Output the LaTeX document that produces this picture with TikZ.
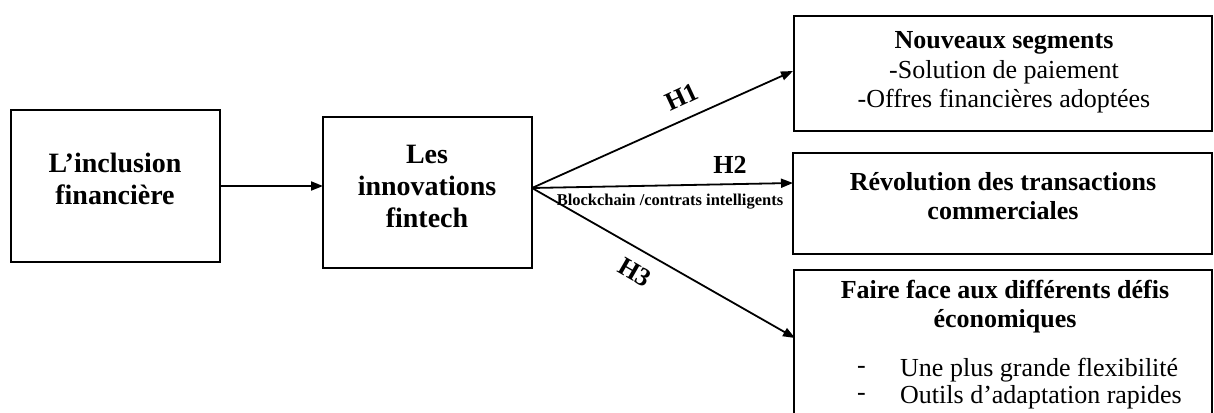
\documentclass[tikz,border=0pt]{standalone}
\usepackage{fontspec}
\setmainfont{Liberation Serif}
\usetikzlibrary{arrows.meta}
\begin{document}
\begin{tikzpicture}[x=1pt,y=-1pt,
  box/.style={draw=black, line width=1.4pt, inner sep=0pt, outer sep=0pt},
  arr/.style={line width=1.8pt, -{Triangle[length=12pt,width=9pt]}},
  bigtxt/.style={align=center, inner sep=0pt, font=\fontsize{28}{32}\selectfont\bfseries},
  rtitle/.style={align=center, inner sep=0pt, font=\fontsize{26}{29}\selectfont\bfseries},
  rtxt/.style={align=center, inner sep=0pt, font=\fontsize{26}{29.5}\selectfont},
  hlab/.style={inner sep=0pt, font=\fontsize{26}{28}\selectfont\bfseries},
  smalllab/.style={inner sep=0pt, font=\fontsize{16.5}{18}\selectfont\bfseries},
  bul/.style={anchor=west, inner sep=0pt, font=\fontsize{26}{28}\selectfont}
]
\clip (0,0) rectangle (1214,412);
\fill[white] (0,0) rectangle (1214,412);

% boxes
\node[box, minimum width=209pt, minimum height=152pt] (b1) at (115.5,186) {};
\node[box, minimum width=209pt, minimum height=151pt] (b2) at (427.5,192.5) {};
\node[box, minimum width=418pt, minimum height=115pt] (r1) at (1003,73.5) {};
\node[box, minimum width=419pt, minimum height=101pt] (r2) at (1002.5,203.5) {};
\node[box, minimum width=418pt, minimum height=155pt] (r3) at (1003,347.5) {};

% texts
\node[bigtxt] (t1) at (115,179) {L’inclusion\\financière};
\node[bigtxt] (t2) at (427,186) {Les\\innovations\\fintech};
\node[rtitle] (t3) at (1004,43) {Nouveaux segments};
\node[rtxt, anchor=north] (t4) at (1004,60) {-Solution de paiement\\-Offres financières adoptées};
\node[rtitle] (t5) at (1003,196) {Révolution des transactions\\commerciales};
\node[rtitle] (t6) at (1005,307) {Faire face aux différents défis\\économiques};
\node[bul] (d1) at (857,370) {-};
\node[bul] (d2) at (857,397) {-};
\node[bul] (u1) at (900,370) {Une plus grande flexibilité};
\node[bul] (u2) at (900,397) {Outils d’adaptation rapides};

% connectors
\coordinate (s) at (532,188);
\coordinate (e1) at (793,71);
\coordinate (e2) at (793,183);
\coordinate (e3) at (795,338);
\draw[arr] (b1.east) -- (b1.east -| b2.west);
\draw[arr] (s) -- (e1);
\draw[arr] (s) -- (e2);
\draw[arr] (s) -- (e3);

% labels
\node[hlab, rotate=25] (h1) at (682,97) {H1};
\node[hlab] (h2) at (730,165) {H2};
\node[hlab, rotate=-30] (h3) at (635,272) {H3};
\node[smalllab] (bc) at (670,202) {Blockchain /contrats intelligents};
\end{tikzpicture}
\end{document}
